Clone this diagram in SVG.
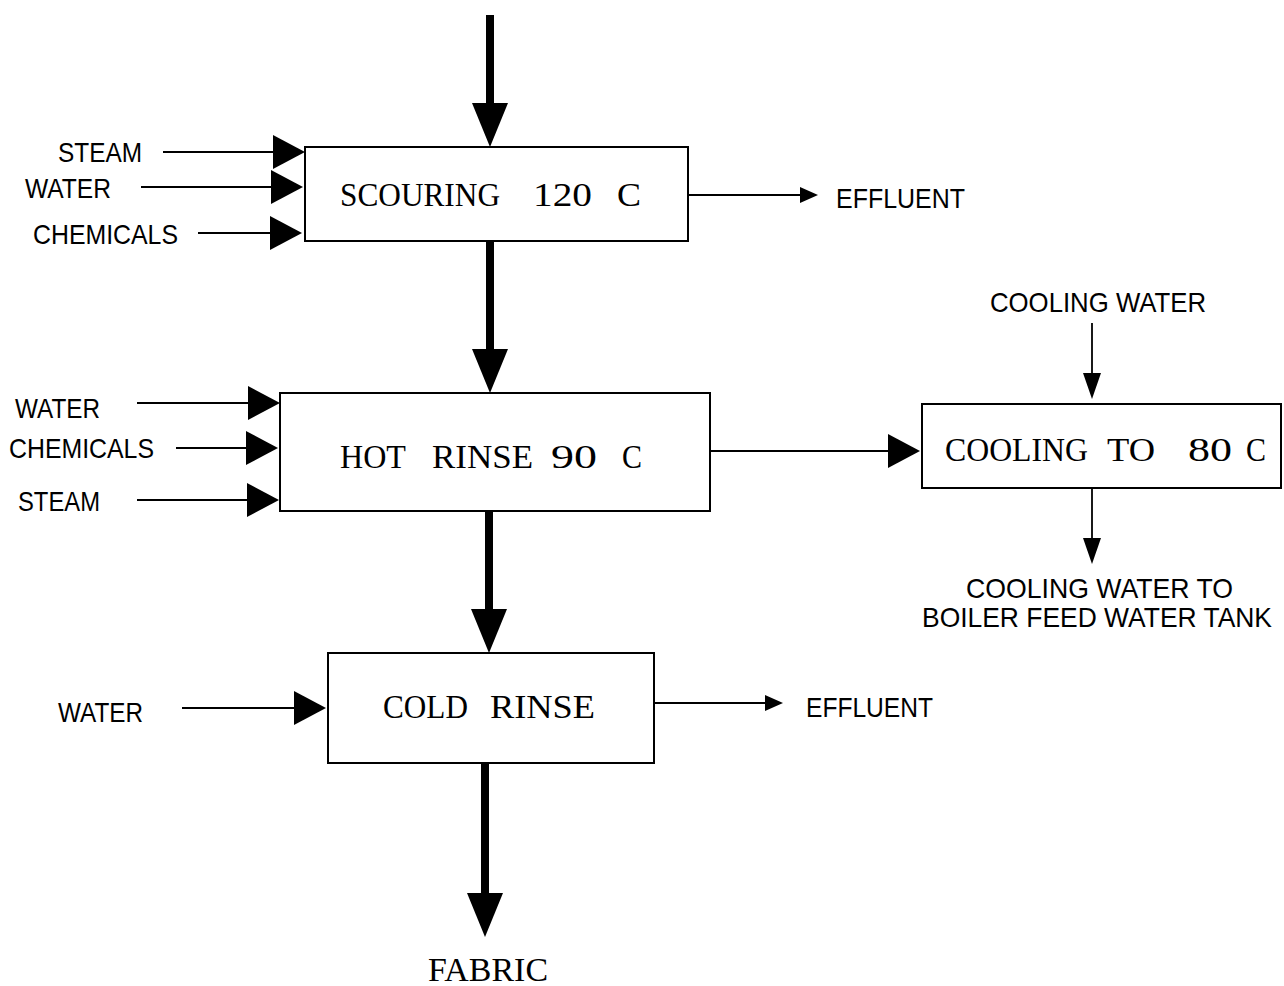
<svg xmlns="http://www.w3.org/2000/svg" width="1284" height="986" viewBox="0 0 1284 986">
<style>
.box{fill:#fff;stroke:#000;stroke-width:2}
.serif{font-family:"Liberation Serif","Times New Roman",serif;font-size:34px;fill:#000}
.lbl{font-family:"Liberation Sans",Arial,sans-serif;font-size:28px;fill:#000}
.thick{stroke:#000;stroke-width:8;fill:none}
.thin{stroke:#000;stroke-width:1.8;fill:none}
</style>
<defs>
<marker id="hThick" markerUnits="userSpaceOnUse" viewBox="0 0 44 36" markerWidth="44" markerHeight="36" refX="0" refY="18" orient="auto"><path d="M0,0 L44,18 L0,36 Z" fill="#000"/></marker>
<marker id="hBig" markerUnits="userSpaceOnUse" viewBox="0 0 32 34" markerWidth="32" markerHeight="34" refX="0" refY="17" orient="auto"><path d="M0,0 L32,17 L0,34 Z" fill="#000"/></marker>
<marker id="hMid" markerUnits="userSpaceOnUse" viewBox="0 0 26 18" markerWidth="26" markerHeight="18" refX="0" refY="9" orient="auto"><path d="M0,0 L26,9 L0,18 Z" fill="#000"/></marker>
<marker id="hSmall" markerUnits="userSpaceOnUse" viewBox="0 0 18 16" markerWidth="18" markerHeight="16" refX="0" refY="8" orient="auto"><path d="M0,0 L18,8 L0,16 Z" fill="#000"/></marker>
</defs>

<g id="connectors">
<line class="thick" x1="490" y1="15" x2="490" y2="103" marker-end="url(#hThick)"/>
<line class="thick" x1="490" y1="241" x2="490" y2="349" marker-end="url(#hThick)"/>
<line class="thick" x1="489" y1="511" x2="489" y2="609" marker-end="url(#hThick)"/>
<line class="thick" x1="485" y1="763" x2="485" y2="893" marker-end="url(#hThick)"/>

<line class="thin" x1="163" y1="152" x2="273" y2="152" marker-end="url(#hBig)"/>
<line class="thin" x1="141" y1="187" x2="271" y2="187" marker-end="url(#hBig)"/>
<line class="thin" x1="198" y1="233" x2="270" y2="233" marker-end="url(#hBig)"/>
<line class="thin" x1="688" y1="195" x2="800" y2="195" marker-end="url(#hSmall)"/>

<line class="thin" x1="137" y1="403" x2="248" y2="403" marker-end="url(#hBig)"/>
<line class="thin" x1="176" y1="448" x2="246" y2="448" marker-end="url(#hBig)"/>
<line class="thin" x1="137" y1="500" x2="247" y2="500" marker-end="url(#hBig)"/>
<line class="thin" x1="710" y1="451" x2="888" y2="451" marker-end="url(#hBig)"/>

<line class="thin" x1="1092" y1="323" x2="1092" y2="373" marker-end="url(#hMid)"/>
<line class="thin" x1="1092" y1="488" x2="1092" y2="538" marker-end="url(#hMid)"/>

<line class="thin" x1="182" y1="708" x2="294" y2="708" marker-end="url(#hBig)"/>
<line class="thin" x1="654" y1="703" x2="765" y2="703" marker-end="url(#hSmall)"/>
</g>

<g id="scouring">
<rect class="box" x="305" y="147" width="383" height="94"/>
<text class="serif" y="206"><tspan x="340" textLength="160" lengthAdjust="spacingAndGlyphs">SCOURING</tspan><tspan x="533" textLength="59" lengthAdjust="spacingAndGlyphs">120</tspan><tspan x="617" textLength="24" lengthAdjust="spacingAndGlyphs">C</tspan></text>
</g>

<g id="hot-rinse">
<rect class="box" x="280" y="393" width="430" height="118"/>
<text class="serif" y="468"><tspan x="340" textLength="66" lengthAdjust="spacingAndGlyphs">HOT</tspan><tspan x="432" textLength="101" lengthAdjust="spacingAndGlyphs">RINSE</tspan><tspan x="551" textLength="46" lengthAdjust="spacingAndGlyphs">90</tspan><tspan x="622" textLength="20" lengthAdjust="spacingAndGlyphs">C</tspan></text>
</g>

<g id="cooling">
<rect class="box" x="922" y="404" width="359" height="84"/>
<text class="serif" y="461"><tspan x="945" textLength="143" lengthAdjust="spacingAndGlyphs">COOLING</tspan><tspan x="1107" textLength="48" lengthAdjust="spacingAndGlyphs">TO</tspan><tspan x="1188" textLength="44" lengthAdjust="spacingAndGlyphs">80</tspan><tspan x="1246" textLength="20" lengthAdjust="spacingAndGlyphs">C</tspan></text>
</g>

<g id="cold-rinse">
<rect class="box" x="328" y="653" width="326" height="110"/>
<text class="serif" y="718"><tspan x="383" textLength="85" lengthAdjust="spacingAndGlyphs">COLD</tspan><tspan x="490" textLength="105" lengthAdjust="spacingAndGlyphs">RINSE</tspan></text>
</g>

<g id="labels">
<text class="lbl" x="58" y="162" textLength="84" lengthAdjust="spacingAndGlyphs">STEAM</text>
<text class="lbl" x="25" y="198" textLength="86" lengthAdjust="spacingAndGlyphs">WATER</text>
<text class="lbl" x="33" y="244" textLength="145" lengthAdjust="spacingAndGlyphs">CHEMICALS</text>
<text class="lbl" x="836" y="208" textLength="129" lengthAdjust="spacingAndGlyphs">EFFLUENT</text>
<text class="lbl" x="990" y="312" textLength="216" lengthAdjust="spacingAndGlyphs">COOLING WATER</text>
<text class="lbl" x="15" y="418" textLength="85" lengthAdjust="spacingAndGlyphs">WATER</text>
<text class="lbl" x="9" y="458" textLength="145" lengthAdjust="spacingAndGlyphs">CHEMICALS</text>
<text class="lbl" x="18" y="511" textLength="82" lengthAdjust="spacingAndGlyphs">STEAM</text>
<text class="lbl" x="966" y="598" textLength="267" lengthAdjust="spacingAndGlyphs">COOLING WATER TO</text>
<text class="lbl" x="1097" y="627" font-size="25" text-anchor="middle" textLength="350" lengthAdjust="spacingAndGlyphs">BOILER FEED WATER TANK</text>
<text class="lbl" x="58" y="722" textLength="85" lengthAdjust="spacingAndGlyphs">WATER</text>
<text class="lbl" x="806" y="717" textLength="127" lengthAdjust="spacingAndGlyphs">EFFLUENT</text>
<text class="serif" x="428" y="981" textLength="120" lengthAdjust="spacingAndGlyphs">FABRIC</text>
</g>
</svg>
